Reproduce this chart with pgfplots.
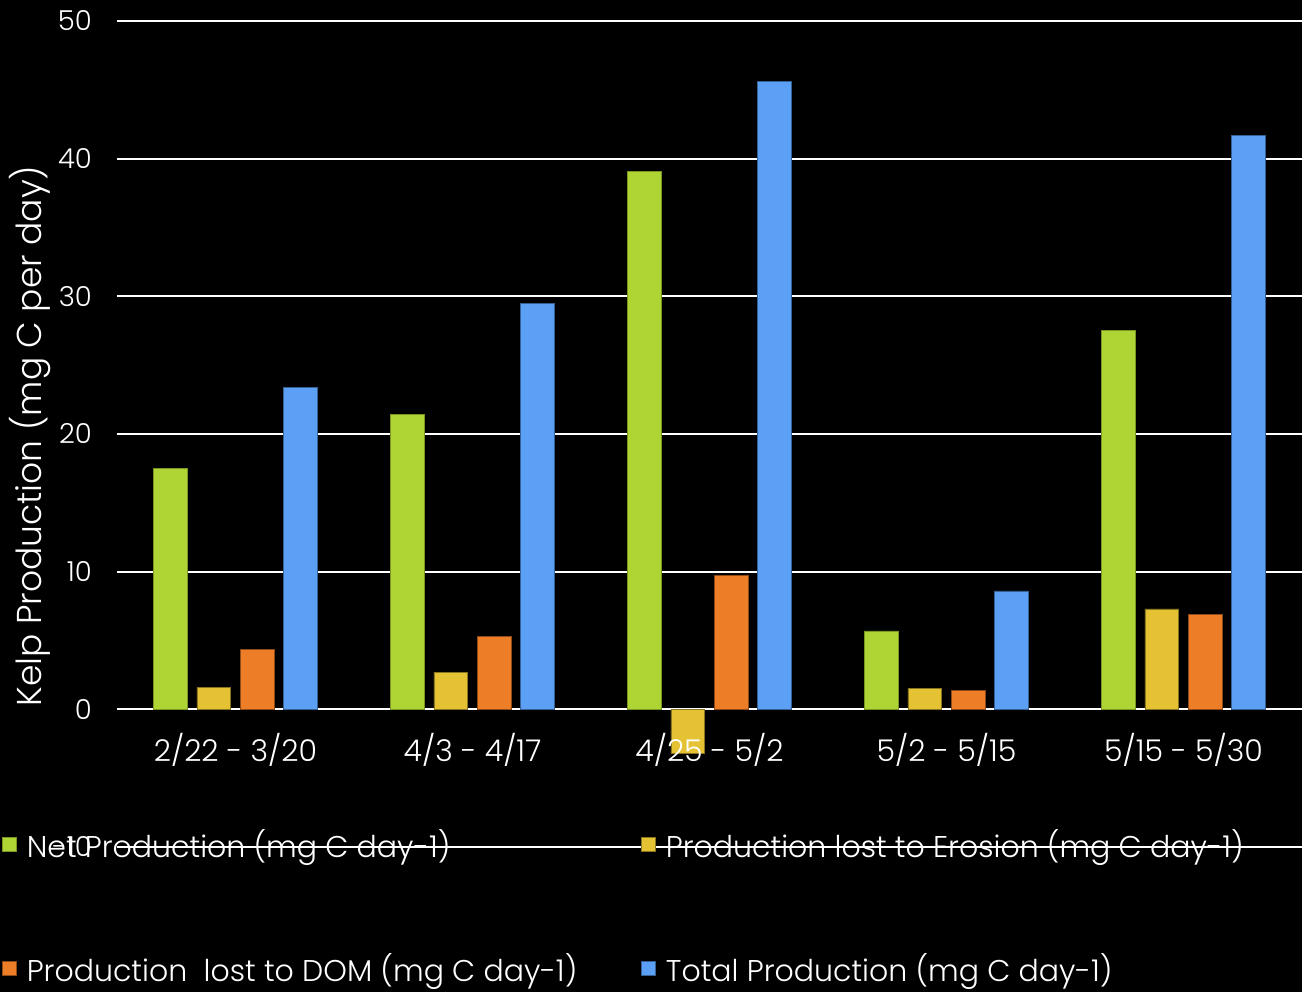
\documentclass[border=0pt]{standalone}
\usepackage{fontspec}
\setmainfont{Poppins}[UprightFont=* Light]
\usepackage{pgfplots}
\usepackage{pgfplotstable}
\pgfplotsset{compat=1.18}

\definecolor{netgreen}{RGB}{174,213,52}
\definecolor{erosionyellow}{RGB}{229,193,52}
\definecolor{domorange}{RGB}{237,125,39}
\definecolor{totalblue}{RGB}{91,160,245}

% Kelp carbon budget per sampling interval (mg C per day)
\pgfplotstableread{
idx net  erosion dom  total
0   17.5  1.6    4.35 23.4
1   21.4  2.7    5.3  29.5
2   39.1 -3.2    9.75 45.6
3    5.7  1.5    1.4   8.6
4   27.5  7.3    6.9  41.7
}\kelp

% tick labels are drawn above the bars
\pgfplotsset{
  layers/labels over bars/.define layer set={
    axis background,axis grid,axis ticks,axis lines,main,
    axis tick labels,axis descriptions,axis foreground}{/pgfplots/layers/standard},
}

\newcommand{\bigfont}{\fontsize{30}{36}\selectfont}

\begin{document}
\begin{tikzpicture}
\begin{axis}[
  at={(0,0)}, anchor=south west,
  scale only axis, width=1185pt, height=826pt,
  set layers=labels over bars,
  clip=false,
  xmin=-0.5, xmax=4.5, ymin=-10, ymax=50,
  axis line style={draw=none},
  major tick length=0pt,
  ytick={-10,0,10,20,30,40,50},
  ymajorgrids, grid style={white, line width=1.7pt},
  xtick={0,1,2,3,4},
  xticklabels={2/22 - 3/20, 4/3 - 4/17, 4/25 - 5/2, 5/2 - 5/15, 5/15 - 5/30},
  xticklabel style={font=\bigfont, text=white, anchor=center, yshift=97pt},
  yticklabel style={font=\fontsize{27.5}{32}\selectfont, text=white, anchor=east, inner sep=0pt, xshift=-25pt},
  /pgf/number format/assume math mode=true,
  ylabel={Kelp Production (mg C per day)},
  ylabel style={font=\fontsize{34.5}{42}\selectfont, text=white,
    at={(axis description cs:-0.0734,0.4976)}, anchor=center},
  legend columns=2,
  legend cell align=left,
  legend image code/.code={\fill[#1] (0pt,-7pt) rectangle (14pt,7pt);},
  legend style={at={(axis description cs:0,0)}, anchor=north west,
    xshift=-115pt, yshift=20pt, draw=none, fill=none, text=white,
    font=\bigfont, inner sep=0pt, row sep=91pt,
    /tikz/every odd column/.append style={column sep=8pt},
    /tikz/every even column/.append style={column sep=62pt}},
]
% black page behind everything
\begin{pgfonlayer}{axis background}
\fill[black] ([xshift=-117pt,yshift=-145pt]rel axis cs:0,0) rectangle ([yshift=21pt]rel axis cs:1,1);
\end{pgfonlayer}
\addplot[ybar, bar width=0.143, bar shift=0pt, fill=netgreen, draw=netgreen!70!black, line width=0.6pt]
  table[x expr=\thisrow{idx}-0.274, y=net]{\kelp};
\addlegendentry{Net Production (mg C day-1)}
\addplot[ybar, bar width=0.143, bar shift=0pt, fill=erosionyellow, draw=erosionyellow!60!black, line width=0.6pt]
  table[x expr=\thisrow{idx}-0.0915, y=erosion]{\kelp};
\addlegendentry{Production lost to Erosion (mg C day-1)}
\addplot[ybar, bar width=0.143, bar shift=0pt, fill=domorange, draw=domorange!60!black, line width=0.6pt]
  table[x expr=\thisrow{idx}+0.0915, y=dom]{\kelp};
\addlegendentry{Production\ \ lost to DOM (mg C day-1)}
\addplot[ybar, bar width=0.143, bar shift=0pt, fill=totalblue, draw=totalblue!60!black, line width=0.6pt]
  table[x expr=\thisrow{idx}+0.274, y=total]{\kelp};
\addlegendentry{Total Production (mg C day-1)}
\end{axis}
\pgfresetboundingbox
\path[use as bounding box] (-117pt,-145pt) rectangle (1185pt,847pt);
\end{tikzpicture}
\end{document}
